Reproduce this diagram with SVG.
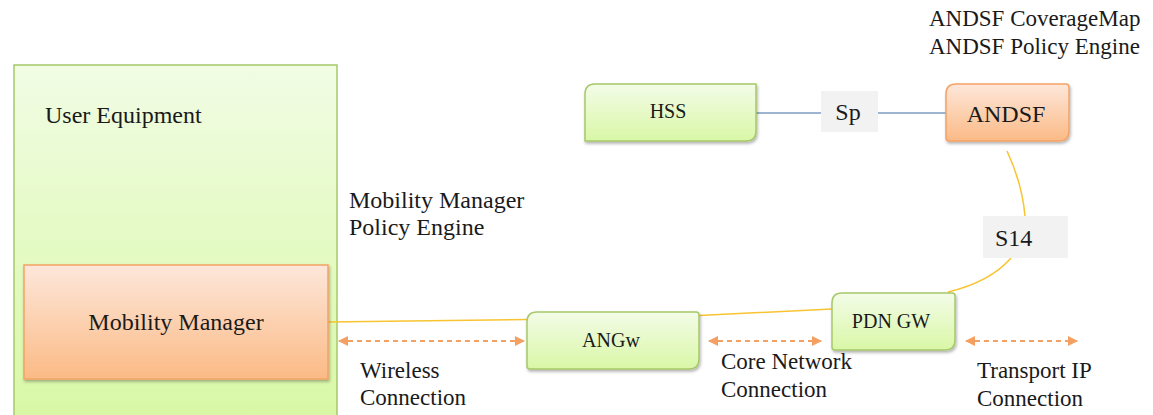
<svg xmlns="http://www.w3.org/2000/svg" width="1153" height="415" viewBox="0 0 1153 415" font-family="'Liberation Serif', 'Times New Roman', 'DejaVu Serif', serif">
<defs>
<linearGradient id="gGreen" x1="0" y1="0" x2="0" y2="1">
<stop offset="0" stop-color="#f3fce8"/><stop offset="1" stop-color="#d9f7a6"/>
</linearGradient>
<linearGradient id="gGreenBig" x1="0" y1="0" x2="0" y2="1">
<stop offset="0" stop-color="#f1fce4"/><stop offset="1" stop-color="#d8f8a4"/>
</linearGradient>
<linearGradient id="gOrange" x1="0" y1="0" x2="0" y2="1">
<stop offset="0" stop-color="#fde7da"/><stop offset="1" stop-color="#fbba86"/>
</linearGradient>
<filter id="shadow" x="-10%" y="-10%" width="125%" height="130%">
<feDropShadow dx="1" dy="2" stdDeviation="1.5" flood-color="#000" flood-opacity="0.3"/>
</filter>
<marker id="arr" viewBox="0 0 10 10" refX="9" refY="5" markerWidth="5" markerHeight="5" orient="auto-start-reverse" markerUnits="strokeWidth">
<path d="M0,0 L10,5 L0,10 Z" fill="#f4a062"/>
</marker>
<style>
text{fill:#1a1a1a;}
.green{fill:url(#gGreen);stroke:#a6c86a;stroke-width:1.5;filter:url(#shadow);}
.orange{fill:url(#gOrange);stroke:#f5a266;stroke-width:1.5;filter:url(#shadow);}
.lbl{fill:#f2f2f2;}
.yl{fill:none;stroke:#f8c431;stroke-width:1.5;}
.bl{fill:none;stroke:#7f9dc2;stroke-width:1.5;}
.dash{fill:none;stroke:#f4a062;stroke-width:2;stroke-dasharray:5,4;marker-start:url(#arr);marker-end:url(#arr);}
</style>
</defs>

<g id="ue">
<rect x="14" y="65" width="323" height="360" fill="url(#gGreenBig)" stroke="#a6c86a" stroke-width="1.5"/>
<text x="45" y="123" font-size="24">User Equipment</text>
</g>

<g id="connectors">
<path class="yl" d="M328,322 L527,319.5 L699,315.5 L832,309"/>
<path class="yl" d="M1007,151 Q1022,183 1025,216"/>
<path class="yl" d="M1011,258 Q990,282 948,292"/>
<path class="bl" d="M756,113 H821 M878,113 H946"/>
<path class="dash" d="M339,341 H524"/>
<path class="dash" d="M709,341 H821"/>
<path class="dash" d="M966,341 H1077"/>
</g>

<g id="mobility-manager">
<rect class="orange" x="24" y="265" width="304" height="114"/>
<text x="176" y="330" font-size="24" text-anchor="middle">Mobility Manager</text>
</g>

<g id="hss">
<path class="green" d="M595,84 H756 V131 Q756,141 746,141 H585 V94 Q585,84 595,84 Z"/>
<text x="668" y="118" font-size="20" text-anchor="middle">HSS</text>
</g>

<g id="sp-label">
<rect class="lbl" x="821" y="91" width="57" height="41"/>
<text x="848" y="120" font-size="24" text-anchor="middle">Sp</text>
</g>

<g id="andsf">
<path class="orange" d="M956,84 H1066 Q1069,84 1069,87 V131 Q1069,141 1059,141 H949 Q946,141 946,138 V94 Q946,84 956,84 Z"/>
<text x="1006" y="122" font-size="24" text-anchor="middle">ANDSF</text>
</g>

<g id="andsf-notes">
<text x="929" y="26" font-size="23">ANDSF CoverageMap</text>
<text x="929" y="54" font-size="23">ANDSF Policy Engine</text>
</g>

<g id="s14-label">
<rect class="lbl" x="983" y="216" width="85" height="42"/>
<text x="995" y="246" font-size="24">S14</text>
</g>

<g id="mm-notes">
<text x="349" y="208" font-size="24">Mobility Manager</text>
<text x="349" y="235" font-size="24">Policy Engine</text>
</g>

<g id="angw">
<path class="green" d="M537,312 H696 Q699,312 699,315 V359 Q699,369 689,369 H530 Q527,369 527,366 V322 Q527,312 537,312 Z"/>
<text x="611" y="347" font-size="20" text-anchor="middle">ANGw</text>
</g>

<g id="pdn-gw">
<path class="green" d="M842,293 H952 Q955,293 955,296 V340 Q955,350 945,350 H835 Q832,350 832,347 V303 Q832,293 842,293 Z"/>
<text x="891" y="328" font-size="20" text-anchor="middle">PDN GW</text>
</g>

<g id="conn-labels">
<text x="360" y="378" font-size="23">Wireless</text>
<text x="360" y="405" font-size="23">Connection</text>
<text x="721" y="369" font-size="23">Core Network</text>
<text x="721" y="397" font-size="23">Connection</text>
<text x="977" y="378" font-size="23">Transport IP</text>
<text x="977" y="406" font-size="23">Connection</text>
</g>
</svg>
